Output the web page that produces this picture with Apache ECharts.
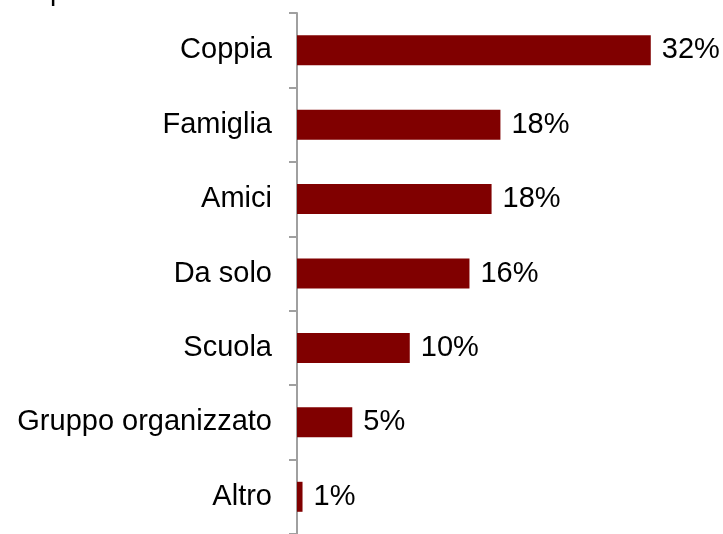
<!DOCTYPE html>
<html>
<head>
<meta charset="utf-8">
<script src="https://cdn.jsdelivr.net/npm/echarts@6/dist/echarts.min.js"></script>
<style>
  html, body { margin: 0; padding: 0; background: #fff; }
  #chart { width: 723px; height: 534px; }
</style>
</head>
<body>
<div id="chart"></div>
<script>
  // categorie e percentuali
  const categories = ['Coppia', 'Famiglia', 'Amici', 'Da solo', 'Scuola', 'Gruppo organizzato', 'Altro'];
  const values = [32, 18.4, 17.6, 15.6, 10.2, 5, 0.5];

  const font = '"Liberation Sans", Arial, sans-serif';

  var chart = echarts.init(document.getElementById('chart'));

  const option = {
    animation: false,
    backgroundColor: '#fff',
    // titolo tagliato in alto, si vede solo la coda della "p"
    graphic: [
      {
        type: 'text',
        left: 50,
        top: -22,
        style: {
          text: 'p',
          font: '28px ' + font,
          fill: '#000'
        }
      }
    ],
    grid: {
      left: 297,
      top: 13,
      width: 398,
      height: 522
    },
    xAxis: {
      type: 'value',
      min: 0,
      max: 36,
      show: false
    },
    yAxis: {
      type: 'category',
      inverse: true,
      data: categories,
      axisLine: {
        lineStyle: { color: '#a0a0a0', width: 2 }
      },
      axisTick: {
        show: true,
        length: 8,
        lineStyle: { color: '#a0a0a0', width: 2 }
      },
      axisLabel: {
        margin: 25,
        fontSize: 29,
        fontFamily: font,
        color: '#000'
      },
      splitLine: { show: false }
    },
    series: [
      {
        type: 'bar',
        data: values,
        barWidth: 30,
        itemStyle: { color: '#800000' },
        label: {
          show: true,
          position: 'right',
          distance: 11,
          fontSize: 29,
          fontFamily: font,
          color: '#000',
          formatter(p) {
            return Math.round(p.value) + '%'
          }
        }
      }
    ]
  };

  chart.setOption(option);
</script>
</body>
</html>
